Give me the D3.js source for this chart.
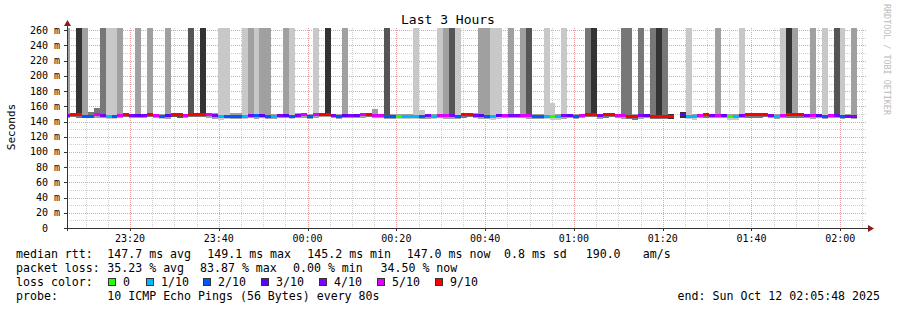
<!DOCTYPE html>
<html><head><meta charset="utf-8">
<script src="https://cdn.jsdelivr.net/npm/d3@7"></script>
<style>
html,body{margin:0;padding:0;background:#fff;}
svg text{font-family:"DejaVu Sans Mono",monospace;white-space:pre;}
</style></head>
<body><svg id="c" width="897" height="310"></svg>
<script>
// ---------------- data ----------------
const title = "Last 3 Hours";
const yLabel = "Seconds";
const endTime = new Date(2025, 9, 12, 2, 5, 48);
const firstBinStart = new Date(2025, 9, 11, 23, 5, 10);
const stepSeconds = 80;
const yTicks = [0,20,40,60,80,100,120,140,160,180,200,220,240,260];
// median rtt per 80 s step (ms); null = no data
const medianMs = [
148.5,149.2,149.2,147.2,147.2,148.6,148.0,146.0,147.0,148.4,
149.0,148.0,147.6,148.0,149.0,148.4,147.0,147.6,148.8,148.6,
148.2,149.4,149.4,149.4,148.6,148.0,146.6,147.2,147.2,147.2,
146.8,148.0,147.4,148.0,147.2,146.8,148.0,147.8,147.2,148.0,
148.6,147.2,148.6,149.4,149.8,148.2,147.2,147.8,148.2,148.0,
148.6,149.0,148.2,148.2,147.2,147.0,146.8,146.6,146.6,146.6,
147.2,148.0,146.8,148.4,148.4,148.0,147.2,149.2,149.2,148.2,
147.8,147.2,146.8,147.6,148.4,148.0,148.0,148.2,148.2,147.2,
147.2,146.8,146.6,146.6,148.0,147.8,147.0,148.4,149.6,149.6,
148.0,148.8,149.0,148.4,148.4,146.8,146.2,147.8,147.6,146.4,
146.4,146.6,146.4,null,148.6,146.8,146.6,148.4,149.0,148.0,
148.4,148.0,146.6,146.6,148.0,148.6,148.6,148.8,149.0,147.8,
146.8,148.2,148.6,148.6,149.2,148.0,148.2,147.6,147.2,148.2,
147.8,147.0,147.2,147.0];
// lost pings out of 10 per step
const lossCount = [
4,9,9,2,2,5,4,1,2,5, 9,4,3,4,9,5,2,3,9,9,
5,9,9,9,5,4,1,2,2,2, 1,4,2,3,2,1,4,3,2,4,
5,2,5,9,9,4,2,3,4,3, 5,9,5,5,2,2,0,1,1,1,
2,4,1,5,5,4,2,9,9,4, 3,2,1,3,5,4,4,5,5,2,
2,1,0,1,4,3,2,5,9,9, 4,9,9,5,5,9,9,4,3,9,
9,9,9,null,3,1,1,5,9,4, 5,3,0,1,4,9,9,9,9,4,
1,5,9,9,9,4,5,3,2,5, 4,2,4,4];
// smoke: top of ping spread (ms, 263 = off the top of the graph)
const smokeHiMs = [
263,150.5,263,263,152,157.6,263,263,263,263,
150.5,150.5,263,150.5,263,150,150.5,263,150.5,150.5,
150,263,150.5,263,150,151,263,263,151,151,
263,263,263,263,263,150,150.5,263,263,151,
150.5,150.5,263,151,263,150.5,150,263,150.5,150.5,
150.5,150.5,156,150,263,150,150,150,150,263,
155,150,150,263,263,263,263,150.5,150.5,151,
263,263,263,263,150.5,263,150,263,263,150,
150,263,164.6,150.5,263,150,150,150.5,263,263,
150,150.5,150.5,150.5,263,263,150.5,263,150,263,
263,263,150.5,null,152,263,150,150.5,150.5,150,
263,150.5,150,150,263,150.5,150,150.5,151,150.5,
150.5,263,263,263,150.5,150.5,263,150.5,263,150.5,
263,263,150.5,263];
// smoke: bottom of ping spread (ms)
const smokeLoMs = [
144.5,145.5,144.5,144,144,144.5,145,143,143,144.5,
145.5,144.5,144,145,145.5,144.5,143,143.5,145.5,145,
144.5,145.5,145.5,145.5,144.5,143.5,142.5,143,143.5,143.5,
143,144,143.5,144,143.5,143,144,144,143.5,144.5,
144.5,143.5,144.5,145.5,146,144.5,143.5,144,144.5,144,
144.5,145.5,144.5,144.5,143.5,143,143,143,143,143,
143.5,143.5,143,144,143,143,143.5,145,145.5,144,
143.5,143,142.5,143,144.5,144,144,144,143.5,143.5,
143.5,143,142.5,142.5,143.5,144,143,144.5,145.5,145.5,
143,145,145.5,144,143.5,143,142.5,143.5,144,143,
143,143,143,null,145,143.5,142.5,144.5,145,144,
144.5,144.5,142.5,142.5,144,145,145,145,145.5,144,
143,144.5,145,144.5,145,144,143,144,143.5,144.5,
144,143.5,144,143.5];
// smoke density rank of the upper part (1 = densest … 5 = sparsest)
const smokeUpperRank = [
4,4,1,4,3,3,3,5,5,4, 4,4,4,4,4,4,4,4,3,3,
4,2,4,1,4,4,5,5,4,4, 5,4,5,4,4,4,4,4,5,4,
4,4,5,4,1,4,4,4,4,4, 4,4,4,4,2,4,4,4,4,5,
5,4,4,5,4,2,5,4,4,4, 4,4,5,5,4,4,4,4,2,4,
4,5,5,4,5,4,4,4,3,1, 4,4,4,4,3,3,4,3,4,3,
1,3,1,null,1,5,4,4,4,4, 4,4,4,4,5,4,4,4,4,4,
4,5,1,4,4,4,4,4,5,4, 2,5,4,4];
// smoke density rank of the lower part
const smokeLowerRank = [
4,3,3,4,4,4,4,5,5,4, 3,4,4,4,3,4,5,4,2,2,
4,3,3,3,4,4,5,5,4,4, 5,4,4,4,4,4,4,4,5,4,
4,4,4,4,4,4,4,4,4,4, 4,3,4,4,4,4,5,5,5,5,
4,4,5,4,4,4,4,3,3,4, 4,4,5,5,4,4,4,4,4,4,
4,5,5,5,4,4,4,4,3,3, 4,3,3,4,4,3,3,4,4,3,
3,3,1,null,1,5,5,4,3,4, 4,4,5,5,4,3,3,3,3,4,
4,4,3,3,3,4,4,4,4,4, 4,4,4,4];
const lossLegend = [
  {label:"0", min:0},{label:"1/10", min:1},{label:"2/10", min:2},
  {label:"3/10", min:3},{label:"4/10", min:4},{label:"5/10", min:5},{label:"9/10", min:9}];
const statsLines = [
  {name:"median rtt:", parts:["147.7 ms avg","149.1 ms max","145.2 ms min","147.0 ms now","0.8 ms sd","190.0","am/s"]},
  {name:"packet loss:", parts:["35.23 % avg","83.87 % max","0.00 % min","34.50 % now"]}
];
const probeText = "10 ICMP Echo Pings (56 Bytes) every 80s";
const endText = "end: Sun Oct 12 02:05:48 2025";
const watermark = "RRDTOOL / TOBI OETIKER";

// ---------------- drawing ----------------
const svg = d3.select("#c");
const L = 67, R = 866, T = 28, B = 228;
const startTime = new Date(endTime.getTime() - 3*3600*1000);
const x = d3.scaleTime().domain([startTime, endTime]).range([L, R]);
const y = d3.scaleLinear().domain([0, 263]).range([B, T]);
const lossColor = d3.scaleThreshold().domain([1,2,3,4,5,9])
  .range(["#26ff00","#00b8ff","#0059ff","#5e00ff","#7e00ff","#dd00ff","#ff0000"]);
const smokeShade = d3.scaleOrdinal().domain([1,2,3,4,5])
  .range(["#333333","#555555","#777777","#a0a0a0","#c8c8c8"]);

svg.append("defs").append("clipPath").attr("id","plot")
  .append("rect").attr("x",L).attr("y",T).attr("width",R-L).attr("height",B-T);

const bins = medianMs.map((m,i)=>({
  i, med:m, loss:lossCount[i], hi:smokeHiMs[i], lo:smokeLoMs[i],
  up:smokeUpperRank[i], dn:smokeLowerRank[i],
  t0:new Date(firstBinStart.getTime()+i*stepSeconds*1000),
  t1:new Date(firstBinStart.getTime()+(i+1)*stepSeconds*1000)
})).filter(d=>d.med!=null);

// grid (drawn beneath data)
const grid = svg.append("g");
const minorY = d3.range(0, 261, 10).filter(v=>v%20!==0);
grid.selectAll(".hm").data(minorY).join("line")
  .attr("x1",L).attr("x2",R).attr("y1",d=>Math.round(y(d))+0.5).attr("y2",d=>Math.round(y(d))+0.5)
  .attr("stroke","#d0d0d0").attr("stroke-dasharray","1,1");
const minorX = x.ticks(d3.timeMinute.every(5)).filter(d=>d.getMinutes()%20!==0);
grid.selectAll(".vm").data(minorX).join("line")
  .attr("x1",d=>Math.round(x(d))+0.5).attr("x2",d=>Math.round(x(d))+0.5).attr("y1",T).attr("y2",B)
  .attr("stroke","#d0d0d0").attr("stroke-dasharray","1,1");
grid.selectAll(".hM").data(yTicks.filter(v=>v>0)).join("line")
  .attr("x1",L).attr("x2",R).attr("y1",d=>Math.round(y(d))+0.5).attr("y2",d=>Math.round(y(d))+0.5)
  .attr("stroke","#eaa0a0").attr("stroke-dasharray","1,1");
const majorX = x.ticks(d3.timeMinute.every(20));
grid.selectAll(".vM").data(majorX).join("line")
  .attr("x1",d=>Math.round(x(d))+0.5).attr("x2",d=>Math.round(x(d))+0.5).attr("y1",T).attr("y2",B)
  .attr("stroke","#eaa0a0").attr("stroke-dasharray","1,1");

// smoke
const data = svg.append("g").attr("clip-path","url(#plot)");
data.selectAll(".sl").data(bins).join("rect")
  .attr("x",d=>x(d.t0)).attr("width",d=>x(d.t1)-x(d.t0))
  .attr("y",d=>y(d.med)).attr("height",d=>y(d.lo)-y(d.med))
  .attr("fill",d=>smokeShade(d.dn)).attr("shape-rendering","crispEdges");
data.selectAll(".su").data(bins).join("rect")
  .attr("x",d=>x(d.t0)).attr("width",d=>x(d.t1)-x(d.t0))
  .attr("y",d=>y(d.hi)).attr("height",d=>y(d.med)-y(d.hi))
  .attr("fill",d=>smokeShade(d.up)).attr("shape-rendering","crispEdges");
// median, coloured by loss
data.selectAll(".md").data(bins).join("rect")
  .attr("x",d=>x(d.t0)).attr("width",d=>x(d.t1)-x(d.t0))
  .attr("y",d=>y(d.med)-1.5).attr("height",3)
  .attr("fill",d=>lossColor(d.loss)).attr("shape-rendering","crispEdges");

// axes
const ax = svg.append("g");
ax.append("line").attr("x1",L+0.5).attr("x2",L+0.5).attr("y1",T-4).attr("y2",B+3)
  .attr("stroke","#333").attr("stroke-width",1);
ax.append("line").attr("x1",L-3).attr("x2",R+3).attr("y1",B+0.5).attr("y2",B+0.5)
  .attr("stroke","#333").attr("stroke-width",1);
ax.append("path").attr("d",`M${L-3},${T-2} L${L+4},${T-2} L${L+0.5},${T-8} Z`).attr("fill","#8b1a1a");
ax.append("path").attr("d",`M${R+2},${B-3} L${R+2},${B+4} L${R+8},${B+0.5} Z`).attr("fill","#8b1a1a");
ax.selectAll(".yt").data(yTicks).join("line")
  .attr("x1",L-3).attr("x2",L).attr("y1",d=>Math.round(y(d))+0.5).attr("y2",d=>Math.round(y(d))+0.5)
  .attr("stroke","#333");
ax.selectAll(".xt").data(majorX).join("line")
  .attr("x1",d=>Math.round(x(d))+0.5).attr("x2",d=>Math.round(x(d))+0.5).attr("y1",B).attr("y2",B+3)
  .attr("stroke","#333");
ax.selectAll(".yl").data(yTicks).join("text")
  .attr("x",60).attr("y",d=>y(d)+3.5).attr("text-anchor","end")
  .attr("font-size",10).attr("fill","#000")
  .text(d=>d===0?"0  ":d+" m");
const fmt = d3.timeFormat("%H:%M");
ax.selectAll(".xl").data(majorX).join("text")
  .attr("x",d=>x(d)).attr("y",242).attr("text-anchor","middle")
  .attr("font-size",10).attr("fill","#000").text(d=>fmt(d));

// titles
svg.append("text").attr("x",448).attr("y",24).attr("text-anchor","middle")
  .attr("font-size",13).attr("fill","#000").text(title);
svg.append("text").attr("transform","translate(15,127) rotate(-90)").attr("text-anchor","middle")
  .attr("font-size",11).attr("fill","#000").text(yLabel);
svg.append("text").attr("transform","translate(884,4) rotate(90)").attr("text-anchor","start")
  .attr("font-size",8.4).attr("fill","#bbbbbb").text(watermark);

// legend
const lg = svg.append("g").attr("font-size",11.6).attr("fill","#000");
const lx = 16, valX = 107.3, lineY = [257.5,271.5,285.5,299.5];
const line1X = [107.3,207.3,307.3,406.7,504,585.7,642.7];
const line2X = [107.3,200,293,380.5];
const xSets = [line1X, line2X];
statsLines.forEach((s,k)=>{
  lg.append("text").attr("x",lx).attr("y",lineY[k]).text(s.name);
  s.parts.forEach((p,j)=>lg.append("text").attr("x",xSets[k][j]).attr("y",lineY[k]).text(p));
});
lg.append("text").attr("x",lx).attr("y",lineY[2]).text("loss color:");
const swX = [108,146,203,261,319,377,435];
lossLegend.forEach((d,j)=>{
  lg.append("rect").attr("x",swX[j]+0.5).attr("y",278.5).attr("width",7).attr("height",7)
    .attr("fill",lossColor(d.min)).attr("stroke","#333").attr("stroke-width",1);
  lg.append("text").attr("x",swX[j]+15).attr("y",lineY[2]).text(d.label);
});
lg.append("text").attr("x",lx).attr("y",lineY[3]).text("probe:");
lg.append("text").attr("x",valX).attr("y",lineY[3]).text(probeText);
lg.append("text").attr("x",880).attr("y",lineY[3]).attr("text-anchor","end").text(endText);
</script></body></html>
